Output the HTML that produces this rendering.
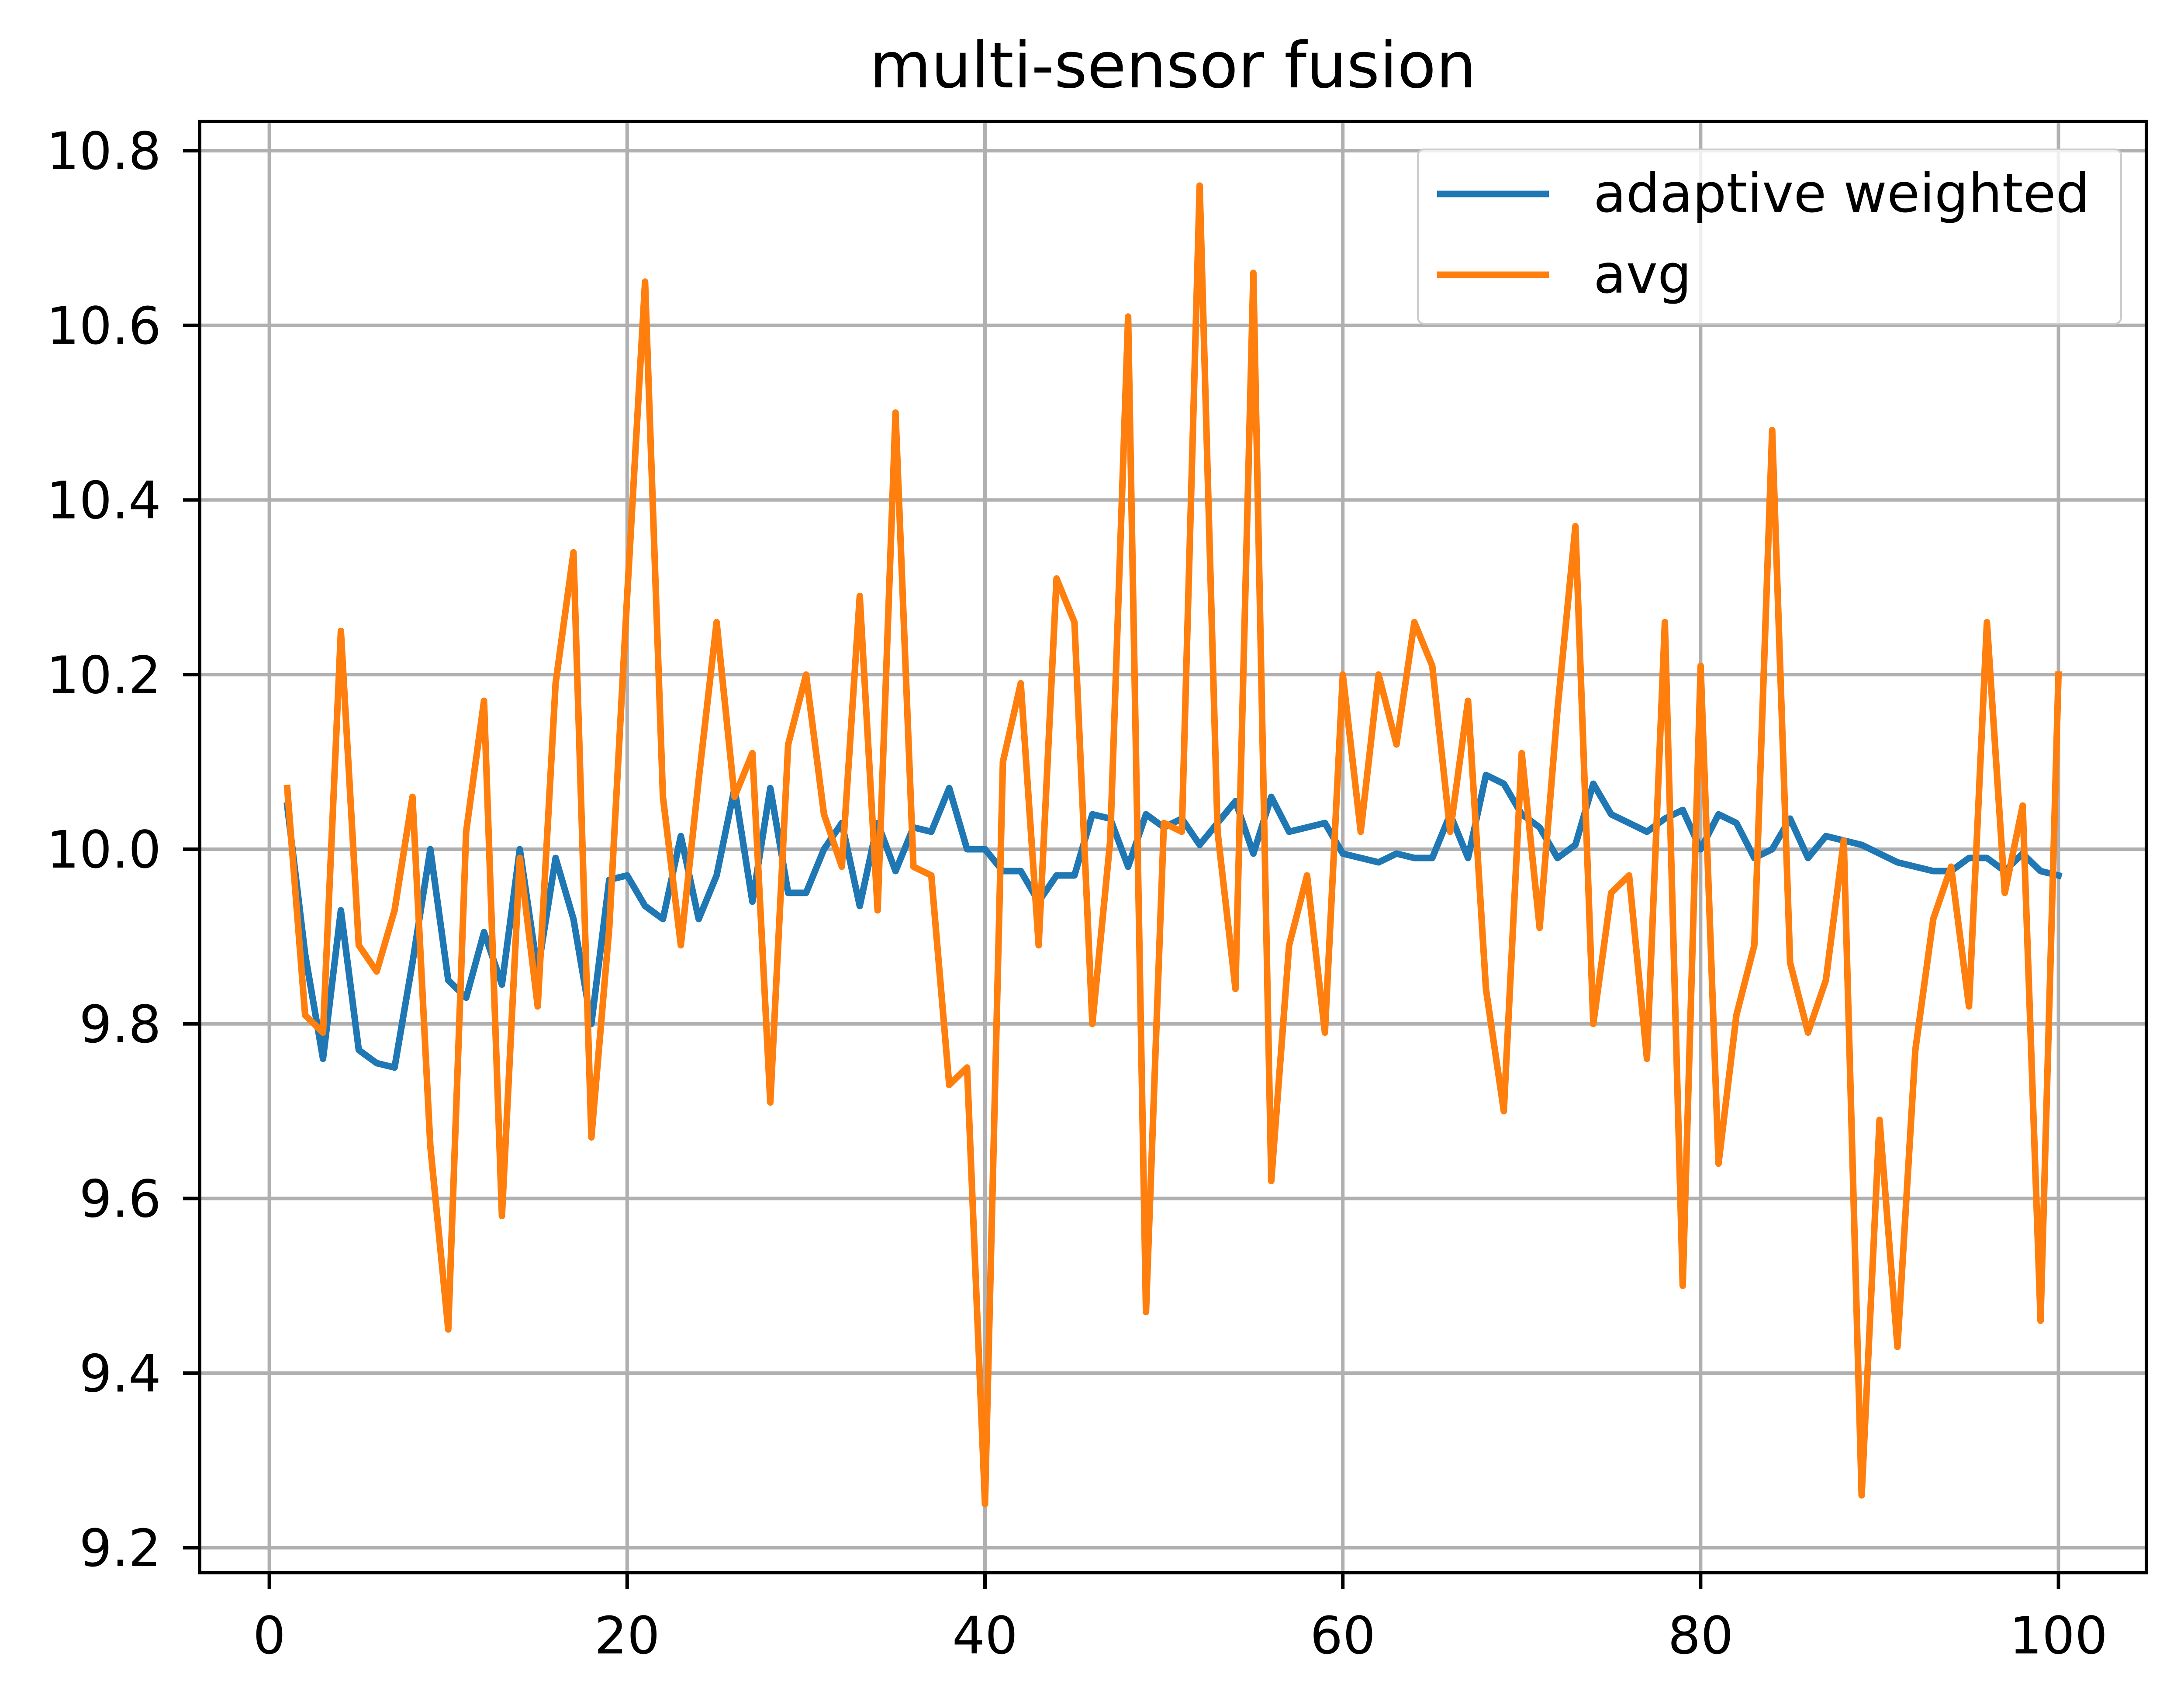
<!DOCTYPE html>
<html><head><meta charset="utf-8"><style>
html,body{margin:0;padding:0;background:#fff;}
svg{display:block;font-family:"DejaVu Sans","Liberation Sans",sans-serif;}
</style></head><body>
<svg id="chart" width="5009" height="3903" viewBox="0 0 5009 3903" xmlns="http://www.w3.org/2000/svg">
<rect width="5009" height="3903" fill="#fff"/>
<text x="2685" y="200" font-size="145" text-anchor="middle">multi-sensor fusion</text>
<g id="grid"></g><g id="series"></g><g id="axes"></g>
<g>
<rect x="3246" y="342" width="1610" height="399" rx="14" fill="#fff" fill-opacity="0.8" stroke="#ccc" stroke-width="4"/>
<line x1="3290" y1="444" x2="3546" y2="444" stroke="#1f77b4" stroke-width="15"/>
<text x="3648" y="485" font-size="122">adaptive weighted</text>
<line x1="3290" y1="629" x2="3546" y2="629" stroke="#ff7f0e" stroke-width="15"/>
<text x="3648" y="670" font-size="122">avg</text>
</g>
</svg>
<script>
const xTicks=[0,20,40,60,80,100];
const yTicks=[9.2,9.4,9.6,9.8,10.0,10.2,10.4,10.6,10.8];
const yTickLabels=["9.2","9.4","9.6","9.8","10.0","10.2","10.4","10.6","10.8"];
const adaptive=[10.05,9.88,9.76,9.93,9.77,9.755,9.75,9.87,10.0,9.85,9.83,9.905,9.845,10.0,9.86,9.99,9.92,9.8,9.965,9.97,9.935,9.92,10.015,9.92,9.97,10.07,9.94,10.07,9.95,9.95,10.0,10.03,9.935,10.03,9.975,10.025,10.02,10.07,10.0,10.0,9.975,9.975,9.94,9.97,9.97,10.04,10.035,9.98,10.04,10.025,10.035,10.005,10.03,10.055,9.995,10.06,10.02,10.025,10.03,9.995,9.99,9.985,9.995,9.99,9.99,10.04,9.99,10.085,10.075,10.04,10.025,9.99,10.005,10.075,10.04,10.03,10.02,10.035,10.045,10.0,10.04,10.03,9.99,10.0,10.035,9.99,10.015,10.01,10.005,9.995,9.985,9.98,9.975,9.975,9.99,9.99,9.975,9.995,9.975,9.97];
const avg=[10.07,9.81,9.79,10.25,9.89,9.86,9.93,10.06,9.66,9.45,10.02,10.17,9.58,9.99,9.82,10.19,10.34,9.67,9.91,10.29,10.65,10.06,9.89,10.08,10.26,10.06,10.11,9.71,10.12,10.2,10.04,9.98,10.29,9.93,10.5,9.98,9.97,9.73,9.75,9.25,10.1,10.19,9.89,10.31,10.26,9.8,10.01,10.61,9.47,10.03,10.02,10.76,10.02,9.84,10.66,9.62,9.89,9.97,9.79,10.2,10.02,10.2,10.12,10.26,10.21,10.02,10.17,9.84,9.7,10.11,9.91,10.16,10.37,9.8,9.95,9.97,9.76,10.26,9.5,10.21,9.64,9.81,9.89,10.48,9.87,9.79,9.85,10.01,9.26,9.69,9.43,9.77,9.92,9.98,9.82,10.26,9.95,10.05,9.46,10.2];
const NS="http://www.w3.org/2000/svg";
const L=457,R=4914,T=278,B=3600;
const X=v=>616.6+(4712.6-616.6)*v/100;
const Y=v=>345+(3543-345)*(10.8-v)/1.6;
function mk(tag,attrs,parent){const e=document.createElementNS(NS,tag);for(const k in attrs)e.setAttribute(k,attrs[k]);parent.appendChild(e);return e;}
const grid=document.getElementById('grid'),axes=document.getElementById('axes'),series=document.getElementById('series');
xTicks.forEach(t=>{
  const g=mk('line',{x1:X(t),x2:X(t),y1:T,y2:B,stroke:'#b0b0b0','stroke-width':8},grid);
  
  
  mk('line',{x1:X(t),x2:X(t),y1:B,y2:B+38,stroke:'#000','stroke-width':8},axes);
  const tx=mk('text',{x:X(t),y:B+185,'font-size':118,'text-anchor':'middle'},axes);
  tx.textContent=String(t);
  
  
});
yTicks.forEach((t,i)=>{
  const g=mk('line',{x1:L,x2:R,y1:Y(t),y2:Y(t),stroke:'#b0b0b0','stroke-width':8},grid);
  
  
  mk('line',{x1:L-38,x2:L,y1:Y(t),y2:Y(t),stroke:'#000','stroke-width':8},axes);
  const tx=mk('text',{x:L-88,y:Y(t)+42,'font-size':118,'text-anchor':'end'},axes);
  tx.textContent=yTickLabels[i];
  
  
});
const fr=mk('rect',{x:L,y:T,width:R-L,height:B-T,fill:'none',stroke:'#000','stroke-width':8},axes);


function line(data,color,name){
  const d=data.map((v,i)=>(i?'L':'M')+X(i+1).toFixed(1)+' '+Y(v).toFixed(1)).join(' ');
  const p=mk('path',{d:d,fill:'none',stroke:color,'stroke-width':15,'stroke-linejoin':'round','stroke-linecap':'square'},series);
  
  
}
line(adaptive,'#1f77b4','adaptive-weighted-line');
line(avg,'#ff7f0e','avg-line');
</script>
</body></html>
